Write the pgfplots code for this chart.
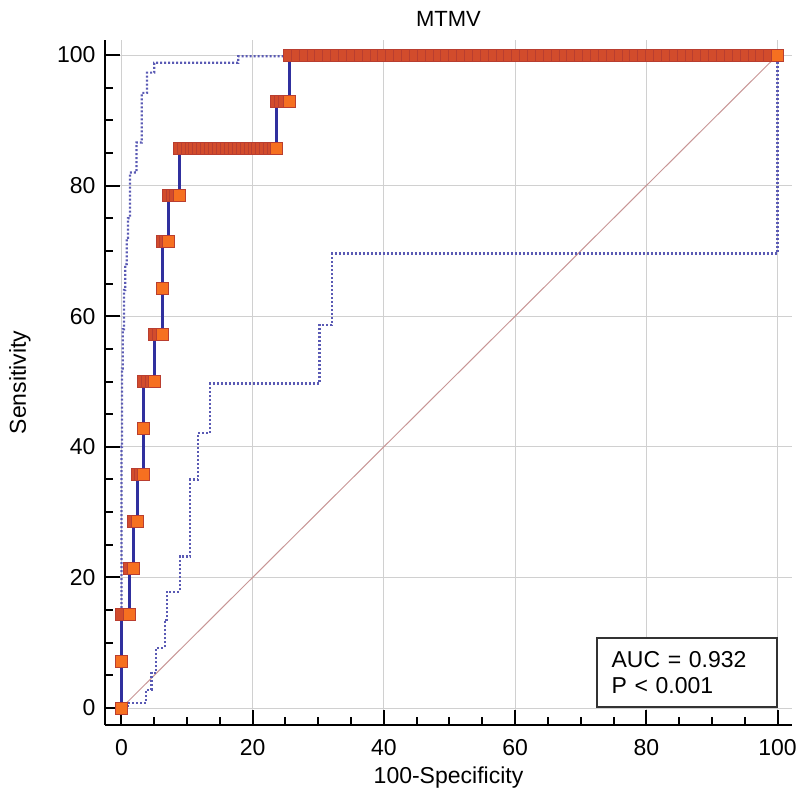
\documentclass[border=0pt]{standalone}
\usepackage{fontspec}
\setmainfont{Liberation Sans}
\usepackage{pgfplots}
\pgfplotsset{compat=1.18}
\definecolor{rocblue}{RGB}{48,48,158}
\definecolor{bandblue}{RGB}{90,90,180}
\definecolor{diagc}{RGB}{200,150,150}
\definecolor{mkdark}{RGB}{210,76,44}
\definecolor{mkedge}{RGB}{185,62,48}
\definecolor{mkorange}{RGB}{246,112,32}
\definecolor{gridgray}{RGB}{208,208,208}
\begin{document}
\begin{tikzpicture}
\begin{axis}[name=ax, scale only axis, width=343.5pt, height=342.5pt,
  xmin=-2.5, xmax=102.2, ymin=-2.6, ymax=102.3,
  axis x line*=bottom, axis y line*=left,
  axis line style={line width=1.2pt, black},
  xtick={0,20,...,100}, ytick={0,20,...,100}, minor tick num=3,
  tick align=inside, major tick length=7.5pt, minor tick length=4pt,
  tick style={black, line width=1pt},
  grid=major, major grid style={gridgray, line width=0.5pt},
  tick label style={font=\fontsize{11.5}{13}\selectfont},
  /pgf/number format/assume math mode=true,
  xticklabel style={yshift=-3.7pt},
  yticklabel style={xshift=-1.2pt},
  label style={font=\fontsize{11.5}{13}\selectfont},
  xlabel={100-Specificity}, ylabel={Sensitivity}, title={MTMV},
  xlabel style={at={(axis description cs:0.5,-0.0847)},anchor=base},
  ylabel style={at={(axis description cs:-0.115,0.5)},anchor=base},
  every axis title/.style={at={(axis description cs:0.5,1.0204)},anchor=base,font=\fontsize{11}{13}\selectfont},
]
% diagonal reference line
\addplot[diagc, line width=0.5pt] coordinates {(0,0) (100,100)};
% upper confidence bound
\addplot[bandblue, line width=1.1pt, dash pattern=on 1pt off 1pt] coordinates {
(0,0) (0,40) (0.1,40) (0.1,52) (0.2,52) (0.2,58) (0.4,58) (0.4,64) (0.6,64) (0.6,68)
(0.8,68) (0.8,72) (1.0,72) (1.0,75) (1.3,75) (1.3,82) (2.3,82) (2.3,86.6) (3.1,86.6)
(3.1,94.2) (3.9,94.2) (3.9,97.3) (5.0,97.3) (5.0,98.8) (17.8,98.8) (17.8,99.8) (25.6,99.8) (100,100)};
% lower confidence bound
\addplot[bandblue, line width=1.1pt, dash pattern=on 1pt off 1pt] coordinates {
(0,0) (1,0) (1,0.8) (3.8,0.8) (3.8,2.8) (4.6,2.8) (4.6,5.4) (5.3,5.4) (5.3,9.2) (6.6,9.2)
(6.6,13.5) (6.9,13.5) (6.9,17.8) (8.9,17.8) (8.9,23.2) (10.5,23.2) (10.5,35) (11.7,35)
(11.7,42.1) (13.5,42.1) (13.5,49.7) (30.2,49.7) (30.2,58.7) (32.1,58.7) (32.1,69.6)
(100,69.6) (100,100)};
% ROC curve
\addplot[rocblue, line width=1.5pt] coordinates {
(0,0) (0,14.29) (1.19,14.29) (1.19,21.43) (1.8,21.43) (1.8,28.57) (2.4,28.57) (2.4,35.71)
(3.3,35.71) (3.3,50) (5.1,50) (5.1,57.14) (6.3,57.14) (6.3,71.43) (7.15,71.43) (7.15,78.57)
(8.8,78.57) (8.8,85.71) (23.65,85.71) (23.65,92.86) (25.6,92.86) (25.6,100) (100,100)};
% threshold markers (earlier points at each level)
\addplot[only marks, mark=square*, mark size=3pt, mark options={fill=mkdark, draw=mkedge, line width=0.4pt}] table {
x y
0 14.29
1.19 21.43
1.8 28.57
2.4 35.71
2.9 35.71
3.3 50
3.9 50
4.5 50
5.1 57.14
5.7 57.14
6.3 71.43
6.7 71.43
7.15 78.57
7.7 78.57
8.25 78.57
8.8 85.71
9.4 85.71
10.0 85.71
10.6 85.71
11.2 85.71
11.8 85.71
12.4 85.71
13.0 85.71
13.6 85.71
14.2 85.71
14.8 85.71
15.4 85.71
16.0 85.71
16.6 85.71
17.2 85.71
17.8 85.71
18.4 85.71
19.0 85.71
19.6 85.71
20.2 85.71
20.8 85.71
21.4 85.71
22.0 85.71
22.6 85.71
23.1 85.71
23.65 92.86
24.3 92.86
24.9 92.86
25.6 100
26.8 100
28.0 100
29.2 100
30.4 100
31.6 100
32.8 100
34.0 100
35.2 100
36.4 100
37.6 100
38.8 100
40.0 100
41.2 100
42.4 100
43.6 100
44.8 100
46.0 100
47.2 100
48.4 100
49.6 100
50.8 100
52.0 100
53.2 100
54.4 100
55.6 100
56.8 100
58.0 100
59.2 100
60.4 100
61.6 100
62.8 100
64.0 100
65.2 100
66.4 100
67.6 100
68.8 100
70.0 100
71.2 100
72.4 100
73.6 100
74.8 100
76.0 100
77.2 100
78.4 100
79.6 100
80.8 100
82.0 100
83.2 100
84.4 100
85.6 100
86.8 100
88.0 100
89.2 100
90.4 100
91.6 100
92.8 100
94.0 100
95.2 100
96.4 100
97.6 100
98.8 100
};
% last threshold point at each level
\addplot[only marks, mark=square*, mark size=3pt, mark options={fill=mkorange, draw=mkedge, line width=0.4pt}] table {
x y
0 0
0 7.14
1.19 14.29
1.8 21.43
2.4 28.57
3.3 35.71
3.3 42.86
5.1 50
6.3 57.14
6.3 64.29
7.15 71.43
8.8 78.57
23.65 85.71
25.6 92.86
100 100
};
\node[draw=black!80, line width=1pt, fill=white, anchor=south east,
  minimum width=90pt, minimum height=34.5pt, text width=75pt, align=left,
  inner xsep=7.5pt, font=\fontsize{11.5}{13}\selectfont] at (axis cs:100,0) {AUC = 0.932\\P < 0.001};
\end{axis}
\pgfresetboundingbox
\path ([shift={(-52.5pt,-36.5pt)}]ax.south west) rectangle ([shift={(346pt,362.5pt)}]ax.south west);
\end{tikzpicture}
\end{document}
